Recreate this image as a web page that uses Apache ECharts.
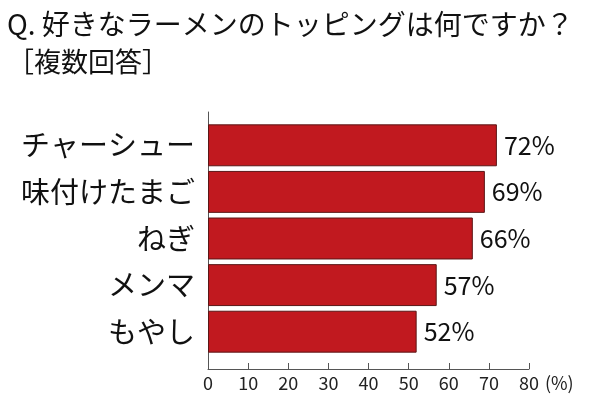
<!DOCTYPE html>
<html><head><meta charset="utf-8">
<script src="https://cdn.jsdelivr.net/npm/echarts@6/dist/echarts.min.js"></script>
<style>html,body{margin:0;padding:0;background:#fff}#c{width:610px;height:400px}</style>
</head><body><div id="c"></div>
<script>
const titleText = 'Q. 好きなラーメンのトッピングは何ですか？';
const subText = '［複数回答］';
const categories = ['チャーシュー', '味付けたまご', 'ねぎ', 'メンマ', 'もやし'];
const values = [72, 69, 66, 57, 52];
const xTicks = [0, 10, 20, 30, 40, 50, 60, 70, 80];

const FONT = '"Noto Sans CJK JP", "Noto Sans", sans-serif';
const chart = echarts.init(document.getElementById('c'), null, {renderer: 'canvas'});
chart.setOption({
  backgroundColor: '#fff',
  animation: false,
  title: {
    text: titleText, subtext: subText, left: 2, top: 5, itemGap: 10,
    textStyle: {fontFamily: FONT, fontSize: 28, fontWeight: 'normal', color: '#111'},
    subtextStyle: {fontFamily: FONT, fontSize: 27, color: '#111'}
  },
  grid: [
    {left: 208, top: 112, width: 321, height: 257},
    {left: 208, top: 122, width: 321, height: 233}
  ],
  xAxis: [
    {gridIndex: 0, type: 'value', min: xTicks[0], max: xTicks[xTicks.length - 1], interval: 10,
     name: '(%)', nameLocation: 'end', nameGap: 14,
     nameTextStyle: {fontFamily: FONT, fontSize: 18, color: '#222', padding: [5, 0, 0, 0], verticalAlign: 'top'},
     axisLine: {show: true, lineStyle: {color: '#555', width: 1}},
     axisTick: {show: true, inside: true, length: 6, lineStyle: {color: '#555'}},
     axisLabel: {fontFamily: FONT, fontSize: 18, color: '#222', margin: 5},
     splitLine: {show: false}},
    {gridIndex: 1, type: 'value', min: 0, max: 80, show: false}
  ],
  yAxis: [
    {gridIndex: 0, type: 'value', min: 0, max: 1,
     axisLine: {show: true, lineStyle: {color: '#555', width: 1}},
     axisTick: {show: false}, axisLabel: {show: false}, splitLine: {show: false}},
    {gridIndex: 1, type: 'category', data: categories, inverse: true,
     axisLine: {show: false}, axisTick: {show: false},
     axisLabel: {fontFamily: FONT, fontSize: 29, color: '#111', margin: 13}}
  ],
  series: [{
    type: 'bar', xAxisIndex: 1, yAxisIndex: 1, data: values, barWidth: '90%',
    itemStyle: {color: '#C1191F', borderColor: '#5a1616', borderWidth: 1},
    label: {show: true, position: 'right', distance: 7, formatter: '{c}%',
      fontFamily: FONT, fontSize: 25, color: '#111'}
  }]
});
</script></body></html>
